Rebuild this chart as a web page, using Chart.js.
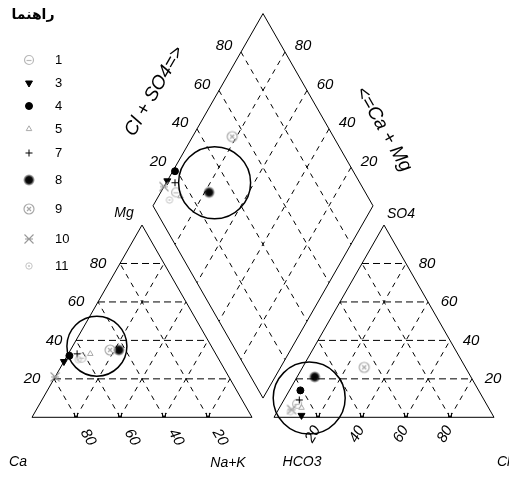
<!DOCTYPE html>
<html>
<head>
<meta charset="utf-8">
<title>Piper diagram</title>
<style>
  html, body { margin: 0; padding: 0; background: #fff; }
  #wrap { width: 509px; height: 479px; position: relative; }
</style>
</head>
<body>
<div id="wrap"><canvas id="chart"></canvas></div>
<script src="https://cdn.jsdelivr.net/npm/chart.js"></script>
<script>
// sample ids, in legend order
const sampleNames = ['1', '3', '4', '5', '7', '8', '9', '10', '11'];
// cations, % meq
const caPct  = [62, 71, 67, 57, 63, 43, 47, 79, 64];
const mgPct  = [31, 29, 32, 33, 33, 35, 35, 21, 30];
const nakPct = [ 7,  0,  1, 10,  4, 22, 18,  0,  6];
// anions, % meq
const hco3Pct = [86, 87, 81, 85, 84, 71, 46, 90, 91];
const so4Pct  = [ 7,  1, 14,  5,  9, 21, 26,  4,  3];
const clPct   = [ 7, 12,  5, 10,  7,  8, 28,  6,  6];
// grid / tick values
const tickValues = [20, 40, 60, 80];
const tickLabels = ['20', '40', '60', '80'];
// highlighted groups (composition of circle centres)
const groupCation  = [52, 37, 11];   // Ca, Mg, Na+K
const groupDiamond = [22, 66];       // Na+K, HCO3
const groupAnion   = [79, 10, 11];   // HCO3, SO4, Cl

const S = Math.sqrt(3) / 2;
const GAP = 10;

function cationXY(ca, mg, nak) { return { x: nak + mg / 2, y: mg * S }; }
function anionXY(hco3, so4, cl) { return { x: 100 + GAP + cl + so4 / 2, y: so4 * S }; }
function diamondXY(nak, hco3) {
    const a = nak / 100, h = hco3 / 100;
    const t = (200 + GAP) / 100 - a - h;
    return { x: 100 * a + 50 * t, y: 100 * S * t };
}

// symbols
function makeSymbol(size, draw) {
    const c = document.createElement('canvas');
    c.width = c.height = size;
    draw(c.getContext('2d'), size / 2);
    return c;
}
const sym1 = makeSymbol(12, (g, m) => {
    g.strokeStyle = '#b8b8b8'; g.lineWidth = 1.2;
    g.beginPath(); g.arc(m, m, 4.5, 0, Math.PI * 2); g.stroke();
    g.beginPath(); g.moveTo(m - 2.5, m + 0.5); g.lineTo(m + 2.5, m + 0.5); g.stroke();
});
const sym8 = makeSymbol(14, (g, m) => {
    const gr = g.createRadialGradient(m, m, 0, m, m, 6);
    gr.addColorStop(0, 'rgba(0,0,0,1)');
    gr.addColorStop(0.55, 'rgba(0,0,0,0.95)');
    gr.addColorStop(1, 'rgba(0,0,0,0)');
    g.fillStyle = gr; g.beginPath(); g.arc(m, m, 6, 0, Math.PI * 2); g.fill();
});
const sym9 = makeSymbol(14, (g, m) => {
    g.strokeStyle = '#a8a8a8'; g.lineWidth = 1.2;
    g.beginPath(); g.arc(m, m, 5, 0, Math.PI * 2); g.stroke();
    g.beginPath();
    g.moveTo(m - 2, m - 2); g.lineTo(m + 2, m + 2);
    g.moveTo(m + 2, m - 2); g.lineTo(m - 2, m + 2);
    g.stroke();
});
const sym10 = makeSymbol(14, (g, m) => {
    g.strokeStyle = '#999'; g.lineWidth = 1.1;
    g.beginPath();
    g.moveTo(m - 4.5, m - 4.5); g.lineTo(m + 4.5, m + 4.5);
    g.moveTo(m + 4.5, m - 4.5); g.lineTo(m - 4.5, m + 4.5);
    g.moveTo(m - 4, m); g.lineTo(m + 4, m);
    g.stroke();
});
const sym11 = makeSymbol(10, (g, m) => {
    g.strokeStyle = '#c4c4c4'; g.fillStyle = '#c4c4c4'; g.lineWidth = 1;
    g.beginPath(); g.arc(m, m, 3.2, 0, Math.PI * 2); g.stroke();
    g.beginPath(); g.arc(m, m, 1, 0, Math.PI * 2); g.fill();
});

const sampleStyles = [
    { pointStyle: sym1 },
    { pointStyle: 'triangle', rotation: 180, radius: 4, bg: '#000', border: '#000' },
    { pointStyle: 'circle', radius: 3.5, bg: '#000', border: '#000' },
    { pointStyle: 'triangle', radius: 3.2, bg: 'rgba(0,0,0,0)', border: '#aaa' },
    { pointStyle: 'cross', radius: 3.5, bg: '#000', border: '#000' },
    { pointStyle: sym8 },
    { pointStyle: sym9 },
    { pointStyle: sym10 },
    { pointStyle: sym11 }
];

const datasets = [];
function lineDs(pts, dash) {
    datasets.push({
        data: pts, showLine: true, borderColor: '#000', borderWidth: 1,
        borderDash: dash || [], pointRadius: 0, tension: 0,
        fill: false, order: 10, clip: false
    });
}
const flatDash = [7, 4];
const slantDash = [5, 5];

// outlines
lineDs([cationXY(100, 0, 0), cationXY(0, 0, 100), cationXY(0, 100, 0), cationXY(100, 0, 0)]);
lineDs([anionXY(100, 0, 0), anionXY(0, 0, 100), anionXY(0, 100, 0), anionXY(100, 0, 0)]);
lineDs([diamondXY(100, 100), diamondXY(0, 100), diamondXY(0, 0), diamondXY(100, 0), diamondXY(100, 100)]);

// grid lines
tickValues.forEach(k => {
    lineDs([cationXY(100 - k, k, 0), cationXY(0, k, 100 - k)], flatDash);
    lineDs([cationXY(100 - k, 0, k), cationXY(0, 100 - k, k)], slantDash);
    lineDs([cationXY(k, 0, 100 - k), cationXY(k, 100 - k, 0)], slantDash);
    lineDs([anionXY(100 - k, k, 0), anionXY(0, k, 100 - k)], flatDash);
    lineDs([anionXY(100 - k, 0, k), anionXY(0, 100 - k, k)], slantDash);
    lineDs([anionXY(k, 0, 100 - k), anionXY(k, 100 - k, 0)], slantDash);
    lineDs([diamondXY(k, 0), diamondXY(k, 100)], slantDash);
    lineDs([diamondXY(0, k), diamondXY(100, k)], slantDash);
    // double tick marks on the bases
    [cationXY(k, 0, 100 - k), anionXY(100 - k, 0, k)].forEach(p => {
        [-0.65, 0.65].forEach(d => lineDs([{ x: p.x + d, y: 0 }, { x: p.x + d, y: 2 }]));
    });
});

// samples
sampleNames.forEach((name, i) => {
    const st = sampleStyles[i];
    datasets.push({
        label: name,
        data: [
            cationXY(caPct[i], mgPct[i], nakPct[i]),
            anionXY(hco3Pct[i], so4Pct[i], clPct[i]),
            diamondXY(nakPct[i], hco3Pct[i])
        ],
        showLine: false,
        pointStyle: st.pointStyle,
        pointRotation: st.rotation || 0,
        pointRadius: st.radius || 5,
        backgroundColor: st.bg || '#000',
        borderColor: st.border || '#000',
        borderWidth: 1,
        order: 5 - i / 100,
        clip: false
    });
});

// group circles
datasets.push({
    data: [
        cationXY(groupCation[0], groupCation[1], groupCation[2]),
        diamondXY(groupDiamond[0], groupDiamond[1]),
        anionXY(groupAnion[0], groupAnion[1], groupAnion[2])
    ],
    showLine: false, pointStyle: 'circle', pointRadius: [30, 36, 36],
    backgroundColor: 'rgba(0,0,0,0)', borderColor: '#000', borderWidth: 1.5,
    order: 0, clip: false
});

const legendRows = [60, 83, 106, 129, 153, 180, 209, 239, 266];

const piperText = {
    id: 'piperText',
    afterDraw(chart) {
        const { ctx, scales: { x, y } } = chart;
        const P = p => ({ x: x.getPixelForValue(p.x), y: y.getPixelForValue(p.y) });
        const put = (txt, p, dx, dy, font, rot, align) => {
            ctx.save();
            ctx.font = font;
            ctx.fillStyle = '#000';
            ctx.textAlign = align || 'center';
            ctx.textBaseline = 'middle';
            ctx.translate(p.x + dx, p.y + dy);
            if (rot) ctx.rotate(rot * Math.PI / 180);
            ctx.fillText(txt, 0, 0);
            ctx.restore();
        };
        const tickFont = 'italic 15px "Liberation Sans", Arial, sans-serif';
        const nameFont = 'italic 14px "Liberation Sans", Arial, sans-serif';
        const titleFont = 'italic 19px "Liberation Sans", Arial, sans-serif';

        tickValues.forEach((k, j) => {
            const lab = tickLabels[j];
            put(lab, P(cationXY(100 - k, k, 0)), -22, 0, tickFont);
            put(lab, P(anionXY(0, k, 100 - k)), 21, 0, tickFont);
            put(lab, P(diamondXY(0, 100 - k)), -17, -6, tickFont);
            put(lab, P(diamondXY(100 - k, 0)), 18, -6, tickFont);
            put(lab, P(cationXY(k, 0, 100 - k)), 12, 20, tickFont, 60);
            put(lab, P(anionXY(100 - k, 0, k)), -5, 17, tickFont, -60);
        });

        put('Ca', P(cationXY(100, 0, 0)), -14, 45, nameFont);
        put('Na+K', P(cationXY(0, 0, 100)), -24, 46, nameFont);
        put('HCO3', P(anionXY(100, 0, 0)), 28, 45, nameFont);
        put('Cl', P(anionXY(0, 0, 100)), 3, 45, nameFont, 0, 'left');
        put('Mg', P(diamondXY(0, 100)), -29, 7, nameFont);
        put('SO4', P(diamondXY(100, 0)), 28, 8, nameFont);
        put('Cl + SO4=>', P(diamondXY(0, 55)), -48, -28, titleFont, -60);
        put('<=Ca + Mg', P(diamondXY(55, 0)), 60, 10, titleFont, 60);

        // legend
        ctx.save();
        ctx.font = 'bold 14px "DejaVu Sans", sans-serif';
        ctx.fillStyle = '#000';
        ctx.textAlign = 'center';
        ctx.textBaseline = 'middle';
        ctx.fillText('راهنما', 33, 15);
        ctx.font = '13px "Liberation Sans", Arial, sans-serif';
        ctx.textAlign = 'left';
        sampleNames.forEach((name, i) => {
            const st = sampleStyles[i];
            const yy = legendRows[i];
            ctx.fillStyle = st.bg || '#000';
            ctx.strokeStyle = st.border || '#000';
            ctx.lineWidth = 1;
            Chart.helpers.drawPoint(ctx, {
                pointStyle: st.pointStyle, rotation: st.rotation || 0,
                radius: st.radius || 5, borderWidth: 1
            }, 29, yy);
            ctx.fillStyle = '#000';
            ctx.fillText(name, 55, yy);
        });
        ctx.restore();
    }
};

const px0 = 32, py0 = 417.3, sx = 2.2, sy = 2.22;
new Chart(document.getElementById('chart'), {
    type: 'scatter',
    data: { datasets: datasets },
    options: {
        responsive: true,
        maintainAspectRatio: false,
        animation: false,
        layout: { padding: 0, autoPadding: false },
        scales: {
            x: { type: 'linear', display: false, min: -px0 / sx, max: (509 - px0) / sx },
            y: { type: 'linear', display: false, min: (py0 - 479) / sy, max: py0 / sy }
        },
        plugins: { legend: { display: false }, tooltip: { enabled: false } }
    },
    plugins: [piperText]
});
</script>
</body>
</html>
